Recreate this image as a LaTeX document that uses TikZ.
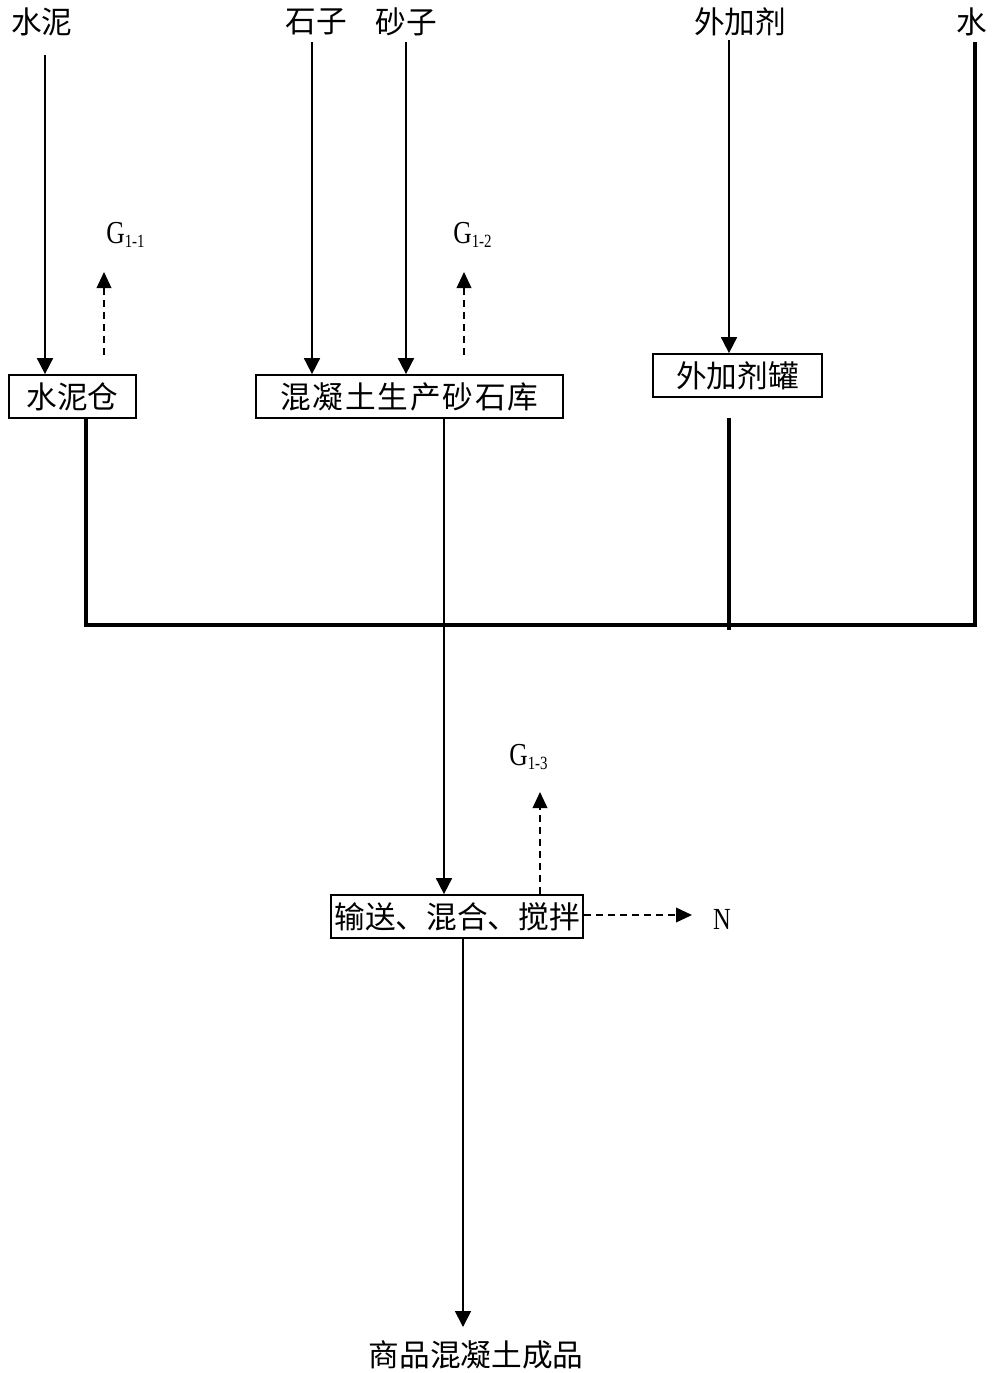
\documentclass[tikz,border=0pt]{standalone}
\usepackage{fontspec}
\setmainfont{Noto Sans CJK SC}
\newfontfamily\latinf[FakeStretch=0.8]{Liberation Serif}
\usetikzlibrary{arrows.meta}
\newcommand\glabel[1]{{\latinf\fontsize{24}{24}\selectfont G\raisebox{-0.3ex}{\fontsize{14}{14}\selectfont #1}}}
\begin{document}
\begin{tikzpicture}[x=0.75pt,y=-0.75pt,
  lbl/.style={inner sep=0pt, font=\fontsize{23}{23}\selectfont},
  glbl/.style={inner sep=0pt, anchor=west},
  boxn/.style={draw, line width=1.3pt, inner sep=0pt, minimum height=43*0.75pt, font=\fontsize{23}{23}\selectfont},
  arr/.style={line width=1.3pt, -{Triangle[length=12pt,width=12pt]}},
  darr/.style={line width=1.2pt, dash pattern=on 5pt off 4pt, -{Triangle[length=12pt,width=11pt]}},
  thick line/.style={line width=2.4pt}]
\useasboundingbox (0,0) rectangle (995,1373);

% top labels
\node[lbl] (t1) at (42,22) {水泥};
\node[lbl] (t2) at (316,22) {石子};
\node[lbl] (t3) at (406,22) {砂子};
\node[lbl] (t4) at (740,22) {外加剂};
\node[lbl] (t5) at (972,22) {水};

% boxes
\node[boxn, minimum width=127*0.75pt] (b1) at (72.5,396.5) {水泥仓};
\node[boxn, minimum width=307*0.75pt] (b2) at (409.5,396.5) {\addfontfeature{LetterSpace=6}混凝土生产砂石库};
\node[boxn, minimum width=169*0.75pt] (b3) at (737.5,375.5) {外加剂罐};
\node[boxn, minimum width=252*0.75pt] (b4) at (457,916.5) {输送、混合、搅拌};
\node[lbl] (out) at (476,1355) {商品混凝土成品};

% G labels and N
\node[glbl] (g1) at (106,235) {\glabel{1-1}};
\node[glbl] (g2) at (453,235) {\glabel{1-2}};
\node[glbl] (g3) at (509,757) {\glabel{1-3}};
\node[inner sep=0pt] (n) at (722,919) {\latinf\fontsize{23}{23}\selectfont N};

% helper coordinates
\coordinate (s1) at (45,55);
\coordinate (s2) at (312,42);
\coordinate (s3) at (406,42);
\coordinate (s4) at (729,40);
\coordinate (s5) at (975,42);
\coordinate (bus) at (0,625);
\coordinate (d1) at (104,355);
\coordinate (e1) at (104,272);
\coordinate (d2) at (464,355);
\coordinate (e2) at (464,272);
\coordinate (e3) at (540,792);
\coordinate (e4) at (692,915);
\coordinate (m1) at (86,0);
\coordinate (m2) at (444,0);
\coordinate (m3) at (729,418);
\coordinate (m3e) at (729,630);
\coordinate (o1) at (463,0);
\coordinate (o1e) at (463,1327);

% feed arrows
\draw[arr] (s1) -- (s1 |- b1.north);
\draw[arr] (s2) -- (s2 |- b2.north);
\draw[arr] (s3) -- (s3 |- b2.north);
\draw[arr] (s4) -- (s4 |- b3.north);

% collecting lines
\draw[thick line] (m1 |- b1.south) -- (m1 |- bus) -- (s5 |- bus) -- (s5);
\draw[thick line] (m3) -- (m3e);
\draw[arr] (m2 |- b2.south) -- (m2 |- b4.north);

% output
\draw[arr] (o1 |- b4.south) -- (o1e);

% emissions
\draw[darr] (d1) -- (e1);
\draw[darr] (d2) -- (e2);
\draw[darr] (e3 |- b4.north) -- (e3);
\draw[darr] (b4.east |- e4) -- (e4);
\end{tikzpicture}
\end{document}
